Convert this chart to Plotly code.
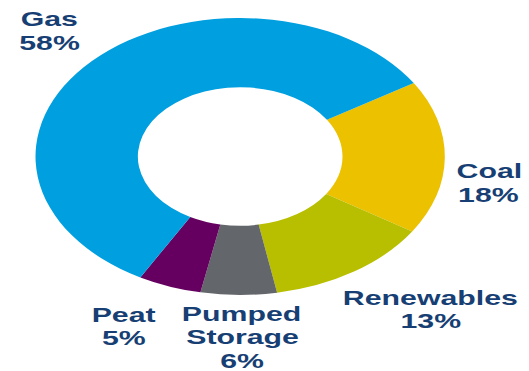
import plotly.graph_objects as go

# Data
labels = ["Coal", "Renewables", "Pumped Storage", "Peat", "Gas"]
values = [18, 13, 6, 5, 58]
colors = ["#EBC100", "#B8BF00", "#63666A", "#660060", "#009FDF"]
label_lines = [["Coal", "18%"], ["Renewables", "13%"], ["Pumped", "Storage", "6%"], ["Peat", "5%"], ["Gas", "58%"]]

# Layout geometry (figure drawn narrower, then stretched horizontally like the original image)
W, H = 358, 371
STRETCH = 529 / W
label_pos = {  # (x center px, first-line y center px) in unstretched figure pixels
    "Coal": (330.6, 170.5),
    "Renewables": (291, 297),
    "Pumped Storage": (163.8, 313),
    "Peat": (83.9, 314),
    "Gas": (33.8, 18.5),
}
LINE_STEP = 23.7
NAVY = "#173F74"

fig = go.Figure(go.Pie(
    labels=labels,
    values=values,
    marker=dict(colors=colors, line=dict(width=0)),
    hole=0.5,
    sort=False,
    direction="clockwise",
    rotation=58,
    textinfo="none",
    hoverinfo="label+percent",
    domain=dict(x=[0.034, 0.874], y=[76 / H, 353 / H]),
    showlegend=False,
))

annotations = []
for name, lines in zip(labels, label_lines):
    px, py = label_pos[name]
    for i, line in enumerate(lines):
        annotations.append(dict(
            text=line, x=px / W, y=1 - (py + i * LINE_STEP) / H,
            xref="paper", yref="paper", xanchor="center", yanchor="middle",
            showarrow=False,
            font=dict(family="Liberation Sans, Arial, sans-serif", size=20.5, color=NAVY, weight="bold"),
        ))

fig.update_layout(
    width=W, height=H,
    margin=dict(l=0, r=0, t=0, b=0),
    paper_bgcolor="white", plot_bgcolor="white",
    annotations=annotations,
)

post = (
    "document.body.style.margin='0';"
    "var gd=document.getElementById('{plot_id}');"
    f"gd.style.transformOrigin='0 0';gd.style.transform='scaleX({STRETCH:.4f})';"
)
fig.write_html("out.html", config={"displayModeBar": False}, post_script=post)
